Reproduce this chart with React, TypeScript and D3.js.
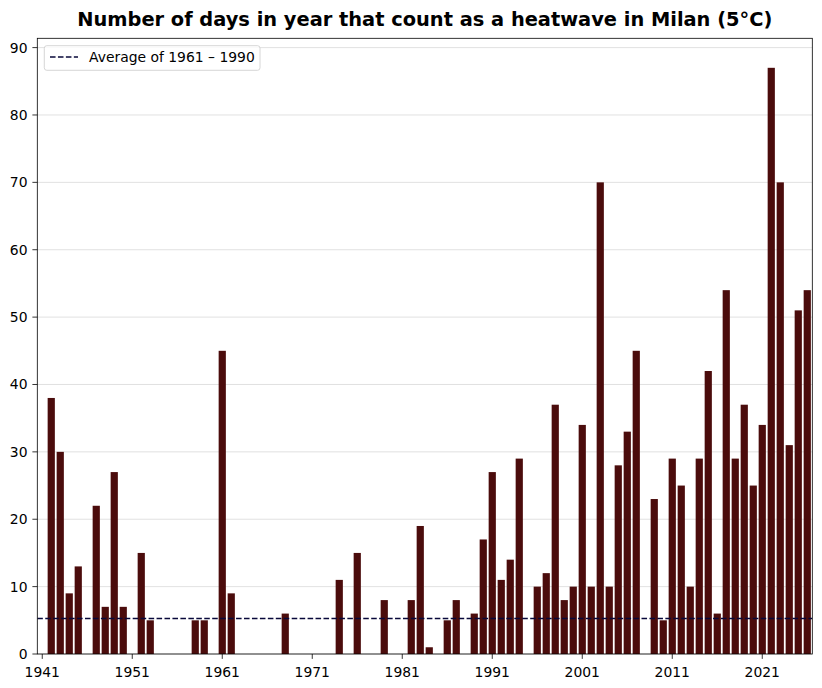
import React from "react";
import * as d3 from "d3";

// Data
const years: number[] = d3.range(1942, 2027);
const heatwaveDays: number[] = [
  38, 30, 9, 13, 0, 22, 7, 27, 7, 0, // 1942-1951
  15, 5, 0, 0, 0, 0, 5, 5, 0, 45, // 1952-1961
  9, 0, 0, 0, 0, 0, 6, 0, 0, 0, // 1962-1971
  0, 0, 11, 0, 15, 0, 0, 8, 0, 0, // 1972-1981
  8, 19, 1, 0, 5, 8, 0, 6, 17, 27, // 1982-1991
  11, 14, 29, 0, 10, 12, 37, 8, 10, 34, // 1992-2001
  10, 70, 10, 28, 33, 45, 0, 23, 5, 29, // 2002-2011
  25, 10, 29, 42, 6, 54, 29, 37, 25, 34, // 2012-2021
  87, 70, 31, 51, 54, // 2022-2026
];
const average1961to1990 = 5.27;
const xTicks: number[] = [1941, 1951, 1961, 1971, 1981, 1991, 2001, 2011, 2021];
const yTicks: number[] = [0, 10, 20, 30, 40, 50, 60, 70, 80, 90];
const titleText = "Number of days in year that count as a heatwave in Milan (5°C)";
const legendText = "Average of 1961 – 1990";

const W = 822;
const H = 688;
const left = 37.3;
const right = 812.3;
const top = 38.3;
const bottom = 654;
const font = "DejaVu Sans, sans-serif";

export default function App() {
  const x = d3.scaleLinear().domain([1940.45, 2026.56]).range([left, right]);
  const y = d3.scaleLinear().domain([0, 91.38]).range([bottom, top]);
  const barW = x(1940.45 + 0.8) - x(1940.45);
  const tickLen = 4.9;

  return (
    <svg
      width={W}
      height={H}
      style={{ position: "absolute", left: 0, top: 0, background: "#fff" }}
      fontFamily={font}
    >
      <rect x={0} y={0} width={W} height={H} fill="#fff" />
      <defs>
        <clipPath id="plot">
          <rect x={left} y={top} width={right - left} height={bottom - top} />
        </clipPath>
      </defs>
      {/* grid */}
      {yTicks.map((t) => (
        <line
          key={"g" + t}
          x1={left}
          x2={right}
          y1={y(t)}
          y2={y(t)}
          stroke="#d9d9d9"
          strokeWidth={0.8}
        />
      ))}
      {/* bars */}
      <g clipPath="url(#plot)">
        {years.map((yr, i) =>
          heatwaveDays[i] > 0 ? (
            <rect
              key={yr}
              x={x(yr) - barW / 2}
              y={y(heatwaveDays[i])}
              width={barW}
              height={y(0) - y(heatwaveDays[i])}
              fill="#4b0c0c"
            />
          ) : null
        )}
        <line
          x1={left}
          x2={right}
          y1={y(average1961to1990)}
          y2={y(average1961to1990)}
          stroke="#08083a"
          strokeWidth={1.7}
          strokeDasharray="5.55 2.4"
        />
      </g>
      {/* spines */}
      <rect
        x={left}
        y={top}
        width={right - left}
        height={bottom - top}
        fill="none"
        stroke="#000"
        strokeWidth={0.8}
      />
      {/* x ticks */}
      {xTicks.map((t) => (
        <g key={"x" + t}>
          <line x1={x(t)} x2={x(t)} y1={bottom} y2={bottom + tickLen} stroke="#000" strokeWidth={0.8} />
          <text x={x(t)} y={bottom + tickLen + 4.9 + 12.8} textAnchor="middle" fontSize={13.9} fill="#000">
            {t}
          </text>
        </g>
      ))}
      {/* y ticks */}
      {yTicks.map((t) => (
        <g key={"y" + t}>
          <line x1={left - tickLen} x2={left} y1={y(t)} y2={y(t)} stroke="#000" strokeWidth={0.8} />
          <text
            x={left - tickLen - 4.9}
            y={y(t)}
            dy="0.36em"
            textAnchor="end"
            fontSize={13.9}
            fill="#000"
          >
            {t}
          </text>
        </g>
      ))}
      {/* title */}
      <text
        x={(left + right) / 2}
        y={25.5}
        textAnchor="middle"
        fontSize={19.4}
        fontWeight="bold"
        fill="#000"
      >
        {titleText}
      </text>
      {/* legend */}
      <rect
        x={44.3}
        y={45.7}
        width={215.7}
        height={24.6}
        rx={2.5}
        fill="#fff"
        fillOpacity={0.8}
        stroke="#cccccc"
        strokeWidth={0.8}
      />
      <line
        x1={50}
        x2={78}
        y1={57}
        y2={57}
        stroke="#08083a"
        strokeWidth={1.7}
        strokeDasharray="5.55 2.4"
      />
      <text x={89} y={62.3} fontSize={13.9} fill="#000">
        {legendText}
      </text>
    </svg>
  );
}
